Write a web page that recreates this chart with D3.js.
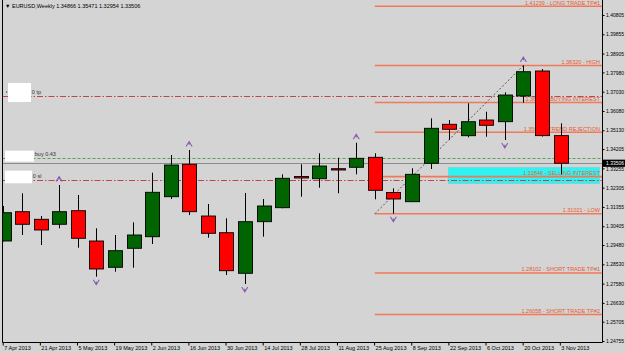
<!DOCTYPE html>
<html><head><meta charset="utf-8">
<script src="https://cdn.jsdelivr.net/npm/d3@7"></script>
<style>
body{margin:0;background:#d4d4d4}
svg{display:block}
text{font-family:"Liberation Sans",Arial,sans-serif}
</style></head>
<body><svg id="c" width="625" height="353"></svg>
<script>
// ---- data ----
const dates = ["7 Apr 2013","14 Apr 2013","21 Apr 2013","28 Apr 2013","5 May 2013","12 May 2013","19 May 2013","26 May 2013","2 Jun 2013","9 Jun 2013","16 Jun 2013","23 Jun 2013","30 Jun 2013","7 Jul 2013","14 Jul 2013","21 Jul 2013","28 Jul 2013","4 Aug 2013","11 Aug 2013","18 Aug 2013","25 Aug 2013","1 Sep 2013","8 Sep 2013","15 Sep 2013","22 Sep 2013","29 Sep 2013","6 Oct 2013","13 Oct 2013","20 Oct 2013","27 Oct 2013","3 Nov 2013"];
const open  = [1.29678,1.31121,1.30747,1.30501,1.31170,1.29678,1.28384,1.29319,1.29890,1.31859,1.33455,1.30909,1.30087,1.28088,1.30629,1.31318,1.32854,1.32745,1.33238,1.33307,1.33799,1.32066,1.31613,1.33504,1.35424,1.34863,1.35635,1.35552,1.36817,1.38048,1.34866];
const high  = [1.31402,1.32027,1.30909,1.32435,1.31943,1.30304,1.29974,1.30599,1.33041,1.33912,1.34159,1.31500,1.30796,1.32042,1.31746,1.32962,1.33455,1.33996,1.33779,1.34518,1.33996,1.32273,1.33258,1.35719,1.35635,1.36458,1.36044,1.36999,1.38320,1.38146,1.35471];
const low   = [1.29654,1.29974,1.29481,1.30304,1.29348,1.27921,1.28167,1.28364,1.29531,1.31746,1.30958,1.29841,1.28004,1.27561,1.29890,1.31288,1.31859,1.32302,1.32027,1.32962,1.31731,1.31021,1.31600,1.33223,1.34651,1.34784,1.34813,1.34651,1.36487,1.34820,1.32954];
const close = [1.31072,1.30501,1.30220,1.31121,1.29811,1.28300,1.29201,1.29974,1.32076,1.33420,1.31121,1.30057,1.28216,1.30629,1.31402,1.32765,1.32780,1.33371,1.33174,1.33750,1.32174,1.31746,1.32962,1.35227,1.35178,1.35552,1.35375,1.36866,1.38013,1.34866,1.33506];
const fractalUp = [3,10,19,28];
const fractalDown = [5,13,21,27];
const yTicks = [1.40805,1.39855,1.38905,1.37980,1.37030,1.36080,1.35130,1.34205,1.33255,1.32305,1.31355,1.30405,1.29480,1.28530,1.27580,1.26630,1.25705,1.24755];
const xTickLabels = ["7 Apr 2013","21 Apr 2013","5 May 2013","19 May 2013","2 Jun 2013","16 Jun 2013","30 Jun 2013","14 Jul 2013","28 Jul 2013","11 Aug 2013","25 Aug 2013","8 Sep 2013","22 Sep 2013","6 Oct 2013","20 Oct 2013","3 Nov 2013"];
const fibPrices = [1.41239,1.38320,1.36495,1.35035,1.32846,1.31021,1.28102,1.26058];
const fibNames  = ["LONG TRADE TP#1","HIGH","BUYING INTEREST","TREND REJECTION","SELLING INTEREST","LOW","SHORT TRADE TP#1","SHORT TRADE TP#2"];
const fibStart = "25 Aug 2013", fibEnd = "20 Oct 2013";
const fibLowPrice = 1.31021, fibHighPrice = 1.38320;
const tradePrices = [1.36793,1.33751,1.32682];
const tradeLabels = ["0 tp","buy 0.43","0 sl"];
const zoneTop = 1.33297, zoneBottom = 1.32509, zoneStart = "22 Sep 2013";
const bid = 1.33506;
const title = "\u25BC EURUSD,Weekly  1.34866 1.35471 1.32954 1.33506";

// ---- drawing ----
const svg = d3.select("#c");
const L = 2.5, R = 602.5, T = 0, B = 342.5;
const x = d3.scalePoint().domain(dates).range([3.4, 560.5]);
const y = d3.scaleLinear().domain([1.24755, 1.40805]).range([341, 15]);
const fs = 5.5;

svg.append("rect").attr("width",625).attr("height",353).attr("fill","#d4d4d4");
svg.append("clipPath").attr("id","clip").append("rect").attr("x",L).attr("y",T).attr("width",R-L).attr("height",B-T);
const g = svg.append("g").attr("clip-path","url(#clip)");

// zone
g.append("rect").attr("x",x(zoneStart)-0.5).attr("y",y(zoneTop))
 .attr("width",600-x(zoneStart)).attr("height",y(zoneBottom)-y(zoneTop))
 .attr("fill","#2ff2f2").attr("stroke","#6ad8e0").attr("stroke-width",0.8);

// fib levels
const fx = x(fibStart);
fibPrices.forEach((p,i)=>{
  const yy = y(p);
  g.append("line").attr("x1",fx).attr("x2",R).attr("y1",yy).attr("y2",yy)
   .attr("stroke","#f07a58").attr("stroke-width",1.6);
  g.append("text").attr("x",600).attr("y",yy-1.6).attr("text-anchor","end")
   .attr("font-size",fs).attr("fill","#e85a30").text(p.toFixed(5)+" - "+fibNames[i]);
});

// trade lines
const tradeStyles = [
  {stroke:"#c0444c", dash:"6,2,1.5,2"},
  {stroke:"#5aa05a", dash:"3,2"},
  {stroke:"#c0444c", dash:"6,2,1.5,2"}
];
tradePrices.forEach((p,i)=>{
  const yy = Math.round(y(p))+0.5;
  g.append("line").attr("x1",L).attr("x2",R).attr("y1",yy).attr("y2",yy)
   .attr("stroke",tradeStyles[i].stroke).attr("stroke-dasharray",tradeStyles[i].dash).attr("stroke-width",1);
});

// bid line
const by = Math.round(y(bid))+0.5;
g.append("line").attr("x1",L).attr("x2",R).attr("y1",by).attr("y2",by).attr("stroke","#8c8c8c").attr("stroke-width",1);

// fib diagonal
g.append("line").attr("x1",fx).attr("y1",y(fibLowPrice)).attr("x2",x(fibEnd)).attr("y2",y(fibHighPrice))
 .attr("stroke","#444").attr("stroke-width",0.9).attr("stroke-dasharray","2,2");

// candles
const bw = x.step()*0.74;
const candles = dates.map((d,i)=>({d,o:open[i],h:high[i],l:low[i],c:close[i]}));
const cg = g.append("g");
cg.selectAll("line.wick").data(candles).join("line")
  .attr("x1",d=>Math.round(x(d.d))+0.5).attr("x2",d=>Math.round(x(d.d))+0.5)
  .attr("y1",d=>y(d.h)).attr("y2",d=>y(d.l)).attr("stroke","#000").attr("stroke-width",1);
cg.selectAll("rect.body").data(candles).join("rect")
  .attr("x",d=>Math.round(x(d.d)-bw/2)+0.5)
  .attr("y",d=>y(Math.max(d.o,d.c)))
  .attr("width",Math.round(bw))
  .attr("height",d=>Math.max(1,Math.abs(y(d.o)-y(d.c))))
  .attr("fill",d=>d.c>=d.o?"#006400":"#ff0000")
  .attr("stroke","#000").attr("stroke-width",0.9);

// fractal arrows
const purple = "#8a5cb0";
fractalUp.forEach(i=>{
  const cx = x(dates[i]), cy = y(high[i])-6;
  g.append("path").attr("d",`M${cx-3},${cy+2.5} L${cx},${cy-2.5} L${cx+3},${cy+2.5} M${cx},${cy-2.5} V${cy+0.8}`)
   .attr("fill","none").attr("stroke",purple).attr("stroke-width",1.1);
});
fractalDown.forEach(i=>{
  const cx = x(dates[i]), cy = y(low[i])+5.5;
  g.append("path").attr("d",`M${cx-3},${cy-2.5} L${cx},${cy+2.5} L${cx+3},${cy-2.5} M${cx},${cy+2.5} V${cy-0.8}`)
   .attr("fill","none").attr("stroke",purple).attr("stroke-width",1.1);
});

// left white label boxes
const boxes = [{dy0:-13.5,dy1:5.5,x0:8,x1:31},{dy0:-7.6,dy1:3.4,x0:5,x1:34},{dy0:-9.3,dy1:3.3,x0:5,x1:32}];
tradePrices.forEach((p,i)=>{
  const yy = y(p), b = boxes[i];
  svg.append("rect").attr("x",b.x0).attr("y",yy+b.dy0).attr("width",b.x1-b.x0).attr("height",b.dy1-b.dy0).attr("fill","#fff");
  svg.append("text").attr("x",b.x1+0.8).attr("y",yy-2.2).attr("font-size",fs).attr("fill","#333").text(tradeLabels[i]);
});
svg.append("rect").attr("x",6).attr("y",y(tradePrices[0])-5).attr("width",1.2).attr("height",1.2).attr("fill","#444");

// title
svg.append("text").attr("x",5).attr("y",8).attr("font-size",fs).attr("fill","#000").text(title);

// frame
svg.append("line").attr("x1",L).attr("x2",L).attr("y1",0).attr("y2",B).attr("stroke","#000");
svg.append("line").attr("x1",R).attr("x2",R).attr("y1",0).attr("y2",B).attr("stroke","#000");
svg.append("line").attr("x1",L).attr("x2",R).attr("y1",B).attr("y2",B).attr("stroke","#000");

// y axis
const ya = svg.append("g").attr("transform",`translate(${R},0)`)
  .call(d3.axisRight(y).tickValues(yTicks).tickSize(2).tickPadding(1.5).tickFormat(d=>d.toFixed(5)));
ya.select(".domain").remove();
ya.selectAll("text").attr("font-size",5.2).attr("font-family","Liberation Sans, Arial, sans-serif").attr("fill","#000")
  .attr("textLength",18).attr("lengthAdjust","spacingAndGlyphs");
ya.selectAll("line").attr("stroke","#000");

// x axis
const xa = svg.append("g").attr("transform",`translate(-0.7,${B})`)
  .call(d3.axisBottom(x).tickValues(xTickLabels).tickSize(3).tickPadding(1));
xa.select(".domain").remove();
xa.selectAll("text").attr("font-size",fs).attr("font-family","Liberation Sans, Arial, sans-serif").attr("fill","#000")
  .attr("text-anchor","start").attr("dx",1);
xa.selectAll("line").attr("stroke","#000");

// bid label on axis
svg.append("rect").attr("x",R).attr("y",y(bid)-3.6).attr("width",625-R).attr("height",7.2).attr("fill","#000");
svg.append("text").attr("x",R+3.5).attr("y",y(bid)+1.9).attr("font-size",5.2).attr("fill","#fff")
  .attr("textLength",18).attr("lengthAdjust","spacingAndGlyphs").text(bid.toFixed(5));
</script></body></html>
